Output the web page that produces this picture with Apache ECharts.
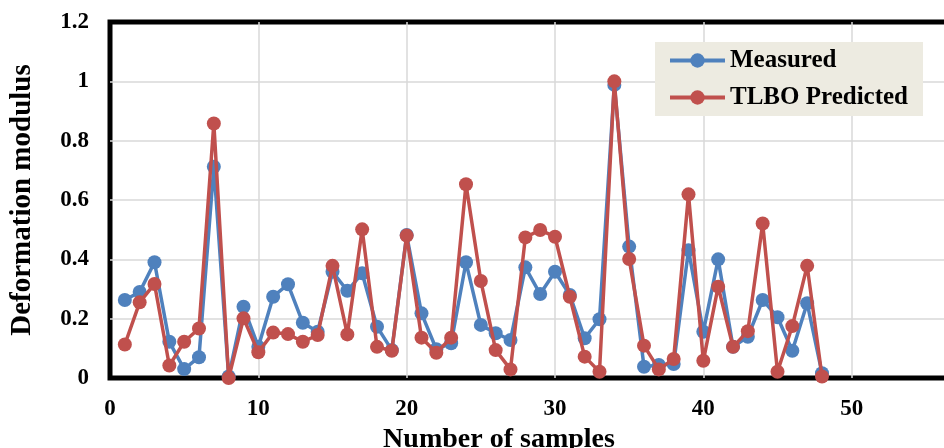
<!DOCTYPE html>
<html>
<head>
<meta charset="utf-8">
<script src="https://cdn.jsdelivr.net/npm/echarts@6/dist/echarts.min.js"></script>
<style>html,body{margin:0;padding:0;background:#fff}#c{width:944px;height:448px}</style>
</head>
<body>
<div id="c"></div>
<script>
const samples = [1,2,3,4,5,6,7,8,9,10,11,12,13,14,15,16,17,18,19,20,21,22,23,24,25,26,27,28,29,30,31,32,33,34,35,36,37,38,39,40,41,42,43,44,45,46,47,48];
const measured = [0.263,0.29,0.39,0.122,0.03,0.07,0.712,0.005,0.24,0.105,0.274,0.316,0.186,0.156,0.358,0.294,0.353,0.173,0.094,0.482,
  0.218,0.097,0.117,0.39,0.179,0.151,0.128,0.373,0.283,0.358,0.28,0.134,0.198,0.988,0.443,0.038,0.044,0.047,0.431,0.156,
  0.4,0.105,0.139,0.263,0.205,0.092,0.252,0.016];
const predicted = [0.113,0.255,0.317,0.042,0.122,0.167,0.858,0.0,0.201,0.087,0.153,0.148,0.122,0.145,0.378,0.147,0.501,0.105,0.092,0.48,
  0.136,0.085,0.136,0.653,0.327,0.094,0.029,0.474,0.499,0.476,0.274,0.072,0.021,1.0,0.401,0.109,0.029,0.064,0.619,0.058,
  0.308,0.105,0.158,0.521,0.021,0.175,0.378,0.005];
const seriesNames = ['Measured','TLBO Predicted'];
const colors = ['#4F81BD','#C0504D'];

const font = '"Liberation Serif", "Times New Roman", serif';
const chart = echarts.init(document.getElementById('c'), null, {renderer:'canvas'});
const toPairs = arr => samples.map((s,i)=>[s,arr[i]]);
chart.setOption({
  animation:false,
  grid:{left:110, top:22, height:356, width:890, show:true, borderColor:'#000', borderWidth:5, backgroundColor:'transparent',
    containLabel:false, outerBoundsMode:'none'},
  xAxis:{type:'value', min:0, max:60, interval:10,
    name:'Number of samples', nameLocation:'middle', nameGap:35,
    nameTextStyle:{fontFamily:font, fontWeight:'bold', fontSize:28, color:'#000', padding:[0,112,0,0]},
    axisLine:{show:false}, axisTick:{show:false},
    axisLabel:{fontFamily:font, fontWeight:'bold', fontSize:23, color:'#000', margin:20},
    splitLine:{show:true, showMinLine:false, showMaxLine:false, lineStyle:{color:'#D9D9D9', width:1.5}}},
  yAxis:{type:'value', min:0, max:1.2, interval:0.2,
    name:'Deformation modulus', nameLocation:'middle', nameGap:73,
    nameTextStyle:{fontFamily:font, fontWeight:'bold', fontSize:29, color:'#000'},
    axisLine:{show:false}, axisTick:{show:false},
    axisLabel:{fontFamily:font, fontWeight:'bold', fontSize:23, color:'#000', margin:21},
    splitLine:{show:true, showMinLine:false, showMaxLine:false, lineStyle:{color:'#D9D9D9', width:1.5}}},
  legend:{orient:'vertical', left:655, top:42, backgroundColor:'#EDEBE1',
    padding:[6,15,6,13], itemGap:12, itemWidth:55, itemHeight:18,
    lineStyle:{width:4},
    textStyle:{fontFamily:font, fontWeight:'bold', fontSize:25, color:'#000'},
    data:seriesNames},
  series:[
    {name:seriesNames[0], type:'line', data:toPairs(measured), symbol:'circle', symbolSize:14,
      itemStyle:{color:colors[0]}, lineStyle:{color:colors[0], width:3.5}, z:2},
    {name:seriesNames[1], type:'line', data:toPairs(predicted), symbol:'circle', symbolSize:14,
      itemStyle:{color:colors[1]}, lineStyle:{color:colors[1], width:3.5}, z:3}
  ]
});
</script>
</body>
</html>
